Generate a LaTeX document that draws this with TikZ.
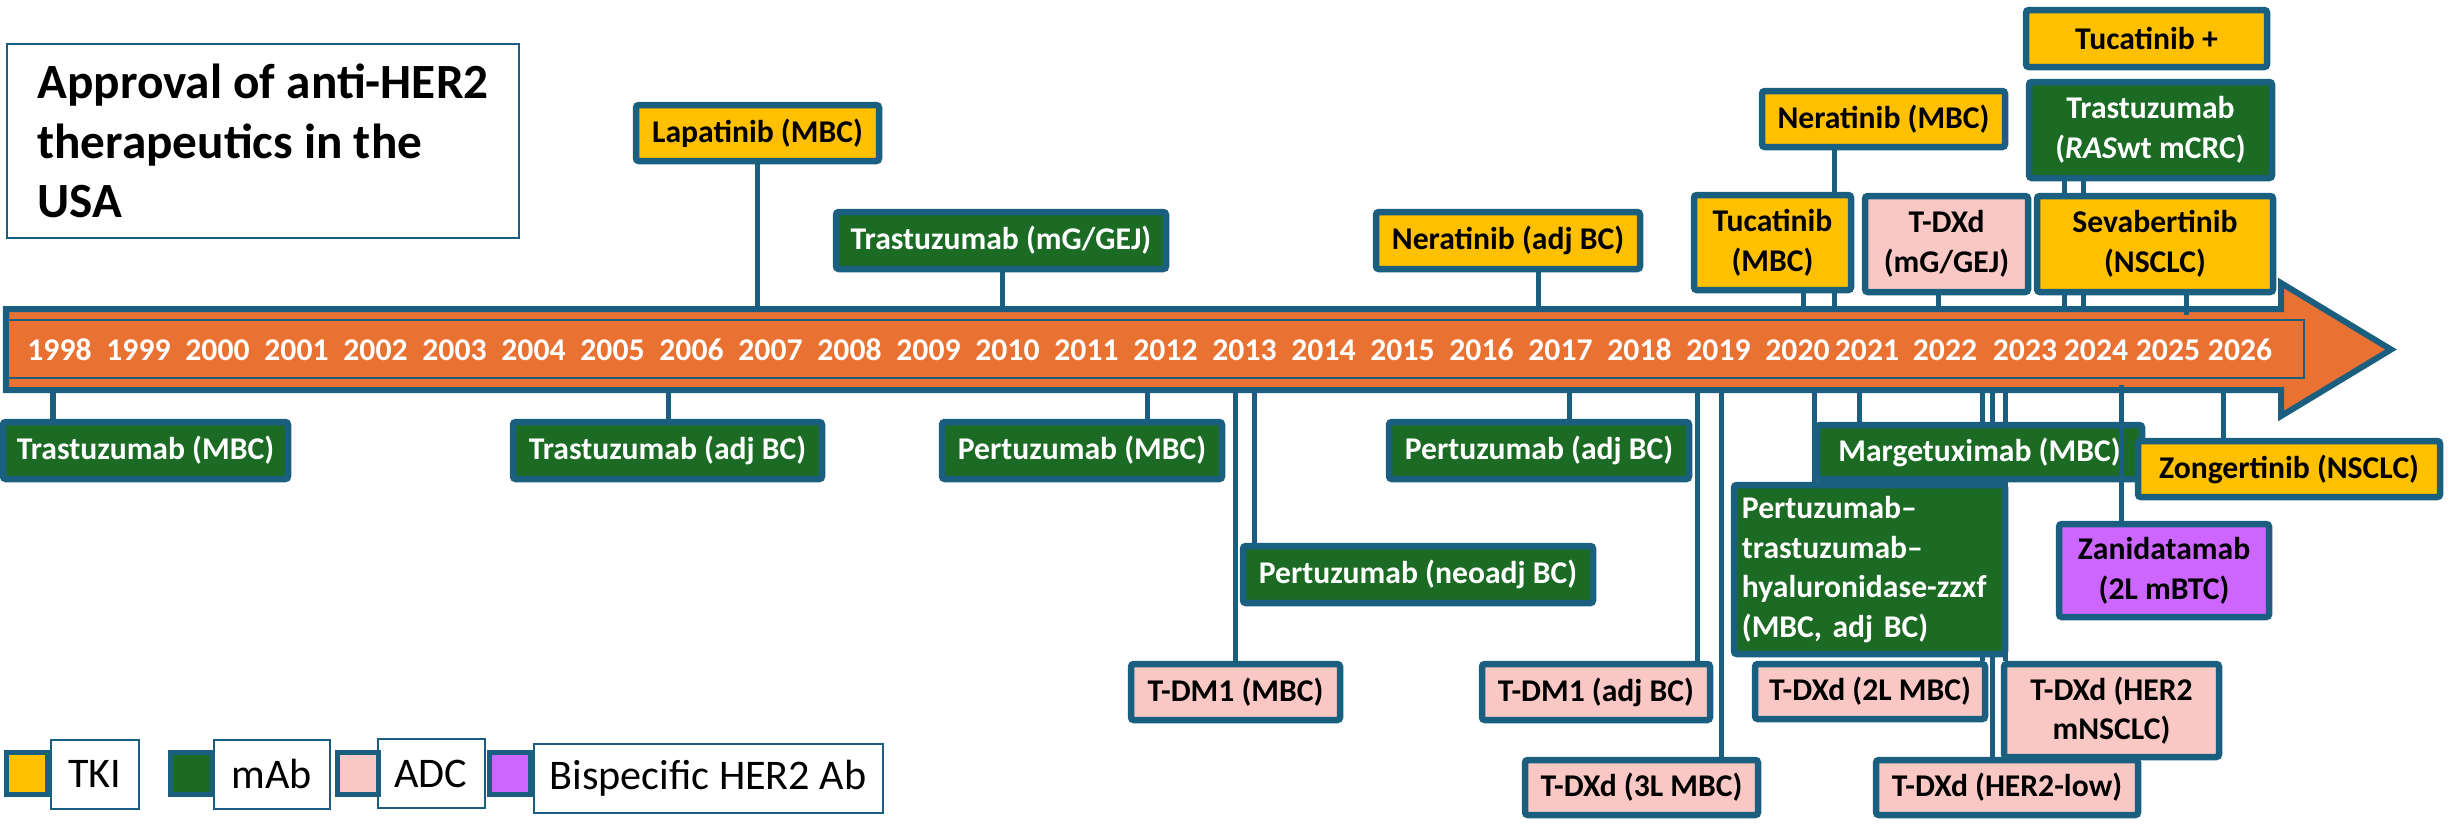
\documentclass[tikz,border=0pt]{standalone}
\usepackage{fontspec}
\setmainfont{Carlito}
\usepackage{tikz}
\usetikzlibrary{backgrounds}
\definecolor{lineblue}{HTML}{1A5E80}
\definecolor{bandcol}{HTML}{E97132}
\definecolor{tkicol}{HTML}{FFC000}
\definecolor{mabcol}{HTML}{1C6B24}
\definecolor{adccol}{HTML}{F9C8C4}
\definecolor{bispcol}{HTML}{CC66FF}
\tikzstyle{every node}=[font=\fontsize{9}{11.3}\selectfont\bfseries, inner sep=0pt]
\tikzstyle{box}=[draw=lineblue, line width=0.065cm, rounded corners=0.8pt, align=center]
\tikzstyle{tki}=[box, fill=tkicol, text=black]
\tikzstyle{mab}=[box, fill=mabcol, text=white]
\tikzstyle{adc}=[box, fill=adccol, text=black]
\tikzstyle{bisp}=[box, fill=bispcol, text=black]
\tikzstyle{conn}=[draw=lineblue, line width=0.05cm]
\tikzstyle{yr}=[anchor=base, text=white]
\tikzstyle{titlebox}=[draw=lineblue, line width=0.02cm, align=left, font=\fontsize{14}{17}\selectfont\bfseries]
\tikzstyle{legbox}=[draw=lineblue, line width=0.02cm, font=\fontsize{12}{14}\selectfont]
\tikzstyle{swatch}=[draw=lineblue, line width=0.05cm, minimum width=0.41cm, minimum height=0.42cm]
\tikzset{sz/.style 2 args={minimum width=#1*0.01cm, minimum height=#2*0.01cm}}

\begin{document}
\frenchspacing
\begin{tikzpicture}[x=0.01cm, y=-0.01cm]
  \useasboundingbox (0,0) rectangle (2458,823);
  \coordinate (bandtop) at (0,306);
  \coordinate (bandbot) at (0,393);
  \coordinate (sevaend) at (2186,315);
  \coordinate (zanidend) at (2121,385);

  \node[titlebox, sz={512}{194}] (title) at (263,141)
    {Approval of anti-HER2\\therapeutics in the\\USA};

  % years
  \foreach \yr [evaluate=\yr as \xx using 59.5+79*(\yr-1998)] in {1998,...,2020}
    \node[yr] (y\yr) at (\xx,360) {\yr};
  \foreach \yr/\xx in {2021/1867,2022/1945,2023/2025,2024/2096,2025/2168,2026/2240}
    \node[yr] (y\yr) at (\xx,360) {\yr};

  % above the band
  \node[tki, sz={243}{56}] (lapat) at (757.5,133) {Lapatinib (MBC)};
  \node[mab, sz={330}{57}] (trasgej) at (1001,240.5) {Trastuzumab (mG/GEJ)};
  \node[tki, sz={264}{57}] (neraadj) at (1508,240.5) {Neratinib (adj BC)};
  \node[tki, sz={243}{56}] (neramb) at (1883.5,119) {Neratinib (MBC)};
  \node[tki, sz={157}{95}] (tucamb) at (1772.5,242.5) {Tucatinib\\(MBC)};
  \node[adc, sz={163}{96}] (tdxdgej) at (1946.5,244) {T-DXd\\(mG/GEJ)};
  \node[tki, sz={241}{57}] (tucaplus) at (2146.5,38.5) {Tucatinib +};
  \node[mab, sz={243}{96}] (trascrc) at (2150.5,130) {Trastuzumab\\(\textit{RAS}wt mCRC)};
  \node[tki, sz={236}{96}] (seva) at (2155,244) {Sevabertinib\\(NSCLC)};

  % below the band
  \node[mab, sz={285}{57}] (trasmb) at (145.5,450.5) {Trastuzumab (MBC)};
  \node[mab, sz={309}{57}] (trasadj) at (667.5,450.5) {Trastuzumab (adj BC)};
  \node[mab, sz={280}{57}] (pertmb) at (1082,450.5) {Pertuzumab (MBC)};
  \node[mab, sz={300}{57}] (pertadj) at (1539,450.5) {Pertuzumab (adj BC)};
  \node[mab, sz={350}{57}] (pertneo) at (1418,574.5) {Pertuzumab (neoadj BC)};
  \node[adc, sz={209}{56}] (tdm1mb) at (1235.5,692) {T-DM1 (MBC)};
  \node[adc, sz={228}{56}] (tdm1adj) at (1596,692) {T-DM1 (adj BC)};
  \node[adc, sz={233}{55}] (tdxd3l) at (1641.5,787.5) {T-DXd (3L MBC)};
  \node[mab, sz={325}{54}] (marget) at (1979.5,452) {Margetuximab (MBC)};
  \node[mab, sz={271}{169}, align=left, text width=2.55cm] (phesgo) at (1869.5,569.5)
    {Pertuzumab--\\trastuzumab--\\hyaluronidase-zzxf\\(MBC, adj BC)};
  \node[tki, sz={302}{56}] (zonger) at (2289,469) {Zongertinib (NSCLC)};
  \node[bisp, sz={210}{93}] (zanid) at (2164,570.5) {Zanidatamab\\(2L mBTC)};
  \node[adc, sz={230}{55}] (tdxd2l) at (1870,691.5) {T-DXd (2L MBC)};
  \node[adc, sz={215}{93}] (tdxdnsclc) at (2111.5,710.5) {T-DXd (HER2\\mNSCLC)};
  \node[adc, sz={262}{55}] (tdxdlow) at (2007,787.5) {T-DXd (HER2-low)};
  \draw[conn] (zanidend) -- (2121,0 |- zanid.north);

  % legend
  \node[legbox, sz={88}{69}] (legtkitxt) at (95,774) {TKI};
  \node[swatch, fill=tkicol] (legtki) at (27,773.5) {};
  \node[legbox, sz={116}{69}] (legmabtxt) at (271.5,774) {mAb};
  \node[swatch, fill=mabcol] (legmab) at (191.5,773.5) {};
  \node[legbox, sz={107}{69}] (legadctxt) at (431,773.5) {ADC};
  \node[swatch, fill=adccol] (legadc) at (358,773.5) {};
  \node[legbox, sz={349}{69}] (legbisptxt) at (708,778) {Bispecific HER2 Ab};
  \node[swatch, fill=bispcol] (legbisp) at (510,773) {};

  \begin{pgfonlayer}{background}
    % band
    \draw[draw=lineblue, line width=0.06cm, fill=bandcol]
      (6,309) -- (2281,309) -- (2281,283) -- (2391,349.5) -- (2281,416)
      -- (2281,390) -- (6,390) -- cycle;
    \draw[draw=lineblue, line width=0.02cm, fill=bandcol] (8,320) rectangle (2304,378);
    % connectors
    \foreach \xx/\nd in {757/lapat,1002/trasgej,1538/neraadj,1834/neramb,1803/tucamb,
                        1938/tdxdgej,2064/trascrc,2083/trascrc}
      \draw[conn] (\xx,0 |- \nd.south) -- (\xx,0 |- bandtop);
    \draw[conn] (2186,0 |- seva.south) -- (sevaend);
    \foreach \xx/\nd in {53/trasmb,668/trasadj,1147/pertmb,1235/tdm1mb,1254/pertneo,
                        1569/pertadj,1697/tdm1adj,1721/tdxd3l,1814/phesgo,1859/marget,
                        1982/tdxd2l,1992/tdxdlow,2005/tdxdnsclc,2223/zonger}
      \draw[conn] (\xx,0 |- bandbot) -- (\xx,0 |- \nd.north);
  \end{pgfonlayer}
\end{tikzpicture}
\end{document}
